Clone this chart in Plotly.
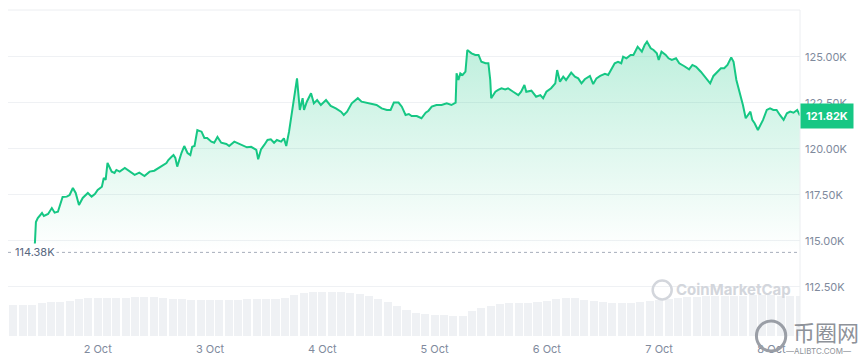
import pandas as pd
import plotly.graph_objects as go

# ---- data ----
start_day = "2025-10-01"
hours = [10.4, 10.6, 10.8, 11.2, 12.1, 12.5, 13.4, 14.2, 14.8, 15.5, 16.3, 16.5, 17.4, 18.0, 18.7, 19.3,
         20.0, 20.8, 21.9, 22.7, 23.4, 24.0, 24.9, 25.3, 25.7, 26.1, 27.0, 27.6, 28.0, 28.7, 29.8, 30.8,
         31.9, 32.9, 34.0, 35.1, 36.1, 38.7, 39.1, 39.8, 40.2, 40.6, 41.0, 41.9, 42.5, 43.2, 43.8, 44.2,
         44.7, 45.3, 46.2, 46.8, 47.4, 48.3, 48.9, 49.6, 50.4, 51.5, 52.1, 53.2, 53.8, 54.9, 55.9, 56.8,
         57.9, 58.3, 58.9, 59.6, 60.3, 61.0, 61.7, 62.3, 63.2, 63.8, 64.3, 64.9, 65.5, 66.4, 66.6, 67.2,
         67.8, 68.1, 68.7, 69.6, 70.2, 70.9, 71.7, 72.8, 73.8, 74.9, 76.0, 76.6, 77.3, 78.3, 79.6, 80.4,
         81.5, 82.6, 83.6, 84.7, 85.8, 86.6, 87.3, 88.3, 89.0, 89.8, 90.5, 91.1, 92.2, 93.2, 94.1, 94.7,
         95.4, 96.4, 97.5, 98.6, 99.6, 100.5, 100.7, 101.1, 101.5, 102.0, 102.6, 103.0, 103.9, 104.7,
         105.4, 106.0, 106.9, 107.5, 107.9, 108.1, 109.0, 109.6, 110.3, 111.1, 111.7, 112.8, 113.9,
         114.5, 115.2, 115.6, 116.7, 117.7, 118.6, 119.2, 119.9, 120.9, 121.8, 122.2, 122.8, 123.5,
         124.1, 125.2, 126.0, 126.7, 127.4, 128.1, 129.2, 129.9, 130.6, 131.4, 132.4, 133.1, 133.7,
         134.5, 135.2, 135.9, 136.3, 137.0, 137.9, 138.5, 139.4, 140.3, 140.9, 141.4, 142.2, 142.8,
         143.5, 143.9, 144.5, 145.4, 146.0, 146.7, 147.6, 148.3, 149.3, 150.4, 151.1, 151.9, 152.9,
         154.0, 154.9, 155.6, 156.5, 157.2, 157.9, 158.6, 159.4, 159.9, 160.5, 161.2, 161.9, 162.5,
         163.0, 163.5, 163.9, 164.4, 165.1, 165.6, 166.2, 167.0, 167.7, 168.4, 169.1, 169.8, 170.6,
         171.3, 172.0, 172.7, 173.5, 174.1]
prices = [114380, 114950, 116030, 116250, 116520, 116360, 116470, 116790, 116540, 116590, 117230, 117390,
          117410, 117500, 117880, 117610, 116960, 117340, 117610, 117410, 117550, 117770, 117950, 118420,
          118320, 119240, 118770, 118700, 118860, 118770, 118970, 118770, 118590, 118710, 118530, 118770,
          118820, 119240, 119400, 119580, 119670, 119510, 119040, 119780, 120160, 119780, 119670, 120120,
          120160, 121030, 120940, 120600, 120600, 120400, 120340, 120650, 120340, 120270, 120160, 120400,
          120340, 120220, 120090, 120120, 119950, 119440, 119980, 120220, 120490, 120530, 120340, 120490,
          120400, 120580, 120160, 120940, 121940, 123390, 123840, 122120, 122760, 122120, 122570, 123030,
          122480, 122660, 122390, 122660, 122340, 122210, 122030, 121850, 122030, 122480, 122760, 122570,
          122520, 122450, 122390, 122210, 122120, 122120, 122520, 122520, 122300, 121850, 121900, 121790,
          121790, 121670, 121970, 122080, 122300, 122390, 122390, 122480, 122390, 122520, 124110, 123750,
          124110, 124020, 124200, 125380, 125200, 125110, 125110, 124740, 124660, 124660, 123750, 122760,
          123110, 123210, 123300, 123240, 123300, 123110, 122930, 123110, 123480, 123110, 123170, 122840,
          122930, 122760, 123110, 123300, 123570, 124290, 123660, 123930, 123750, 124150, 123930, 123840,
          123570, 123790, 123970, 123530, 123840, 123970, 124080, 124020, 124290, 124660, 124740, 124660,
          125020, 124930, 125110, 125110, 125560, 125290, 125650, 125830, 125470, 125380, 125200, 124840,
          125290, 125110, 124930, 124840, 124930, 124660, 124510, 124330, 124570, 124470, 124200, 123840,
          123570, 123970, 124200, 124390, 124390, 124570, 124980, 124740, 123750, 123110, 122390, 121670,
          121850, 122030, 121580, 121400, 121030, 121300, 121580, 122120, 122210, 122120, 122120, 121850,
          121580, 121940, 122030, 121970, 122120, 121820]

vol_hours = list(range(6, 176, 2))
volumes = [62, 62, 62, 66, 68, 68, 70, 74, 76, 76,
           76, 76, 76, 78, 78, 78, 76, 74, 74, 72,
           72, 72, 72, 72, 72, 74, 74, 74, 74, 76,
           82, 86, 88, 88, 88, 88, 86, 84, 80, 74,
           68, 60, 52, 46, 44, 42, 42, 40, 40, 50,
           56, 60, 64, 66, 66, 66, 68, 70, 74, 76,
           76, 72, 70, 68, 66, 66, 66, 68, 70, 72,
           74, 76, 78, 78, 80, 80, 80, 80, 80, 82,
           82, 82, 80, 80, 80]

open_price = 114380
last_price = 121820
open_label = "114.38K"
last_label = "121.82K"

ytick_vals = [112500, 115000, 117500, 120000, 122500, 125000]
ytick_text = ["112.50K", "115.00K", "117.50K", "120.00K", "122.50K", "125.00K"]
xtick_days = ["2025-10-02", "2025-10-03", "2025-10-04", "2025-10-05", "2025-10-06", "2025-10-07", "2025-10-08"]
xtick_text = ["2 Oct", "3 Oct", "4 Oct", "5 Oct", "6 Oct", "7 Oct", "8 Oct"]
x_range = ["2025-10-01 04:50", "2025-10-08 06:06"]
y_range = [109836, 127554]
vol_range = [0, 652]

# ---- build ----
base = pd.Timestamp(start_day)
t = base + pd.to_timedelta(hours, unit="h")
tv = base + pd.to_timedelta(vol_hours, unit="h")

GREEN = "#16c784"
FONT = "Inter"

fig = go.Figure()
fig.add_trace(go.Bar(
    x=tv, y=volumes, yaxis="y2", width=2 * 3600000 * 0.86,
    marker=dict(color="#eff1f4", line=dict(width=0)), hoverinfo="skip", showlegend=False,
))
fig.add_trace(go.Scatter(
    x=t, y=prices, mode="lines", line=dict(color=GREEN, width=2), fill="tozeroy",
    fillgradient=dict(type="vertical", start=114500, stop=125800,
                      colorscale=[[0, "rgba(22,199,132,0.0)"], [1, "rgba(22,199,132,0.28)"]]),
    showlegend=False,
))

fig.update_layout(
    width=860, height=356,
    margin=dict(l=8, r=60, t=10, b=20, autoexpand=False),
    paper_bgcolor="white", plot_bgcolor="white",
    font=dict(family=FONT, size=11, color="#808a9d"),
    xaxis=dict(type="date", range=x_range, tickvals=list(pd.to_datetime(xtick_days)), ticktext=xtick_text,
               showgrid=False, zeroline=False, showline=False, ticks="", ticklabelstandoff=5,
               automargin=False, tickfont=dict(size=11, color="#808a9d")),
    yaxis=dict(side="right", range=y_range, tickvals=ytick_vals, ticktext=ytick_text,
               showgrid=True, gridcolor="#eff1f4", gridwidth=1, zeroline=False, showline=False,
               ticks="", ticklabelstandoff=4, automargin=False, tickfont=dict(size=11, color="#808a9d")),
    yaxis2=dict(overlaying="y", range=vol_range, visible=False, showgrid=False),
    bargap=0,
)

# frame lines (top and right)
fig.add_shape(type="line", xref="paper", yref="paper", x0=0, x1=1, y0=1, y1=1,
              line=dict(color="#eceef1", width=1))
fig.add_shape(type="line", xref="paper", yref="paper", x0=1, x1=1, y0=0, y1=1,
              line=dict(color="#eceef1", width=1))
# opening price dotted line
fig.add_shape(type="line", xref="paper", yref="y", x0=0, x1=1, y0=open_price, y1=open_price,
              line=dict(color="#a7aebb", width=1, dash="dot"))
fig.add_annotation(xref="paper", yref="y", x=0, y=open_price, xanchor="left", yanchor="middle",
                   xshift=5, text=open_label, showarrow=False, bgcolor="white", borderpad=1,
                   font=dict(size=11, color="#58667e", family=FONT))
# last price tag
fig.add_annotation(xref="paper", yref="y", x=1, y=last_price, xanchor="left", yanchor="middle",
                   text="<b>" + last_label + "</b>", showarrow=False, bgcolor=GREEN, borderpad=5,
                   font=dict(size=11, color="white", family=FONT))

# CoinMarketCap watermark
fig.add_shape(type="circle", xref="paper", yref="paper", x0=0.814, x1=0.838, y0=0.112, y1=0.170,
              line=dict(color="#d3d6dc", width=2.5))
fig.add_annotation(xref="paper", yref="paper", x=0.916, y=0.144, xanchor="center", yanchor="middle",
                   text="<b>CoinMarketCap</b>",
                   showarrow=False, font=dict(size=15, color="#d3d6dc", family=FONT))

# bottom-right site watermark
fig.add_shape(type="circle", xref="paper", yref="paper", x0=0.945, x1=0.982, y0=-0.046, y1=0.046,
              line=dict(color="#9a9ea6", width=3))
fig.add_annotation(xref="paper", yref="paper", x=1.033, y=0.016, xanchor="center", yanchor="middle",
                   text="币圈网",
                   showarrow=False, font=dict(size=22, color="#8e9299", family="Noto Sans CJK SC"))
fig.add_annotation(xref="paper", yref="paper", x=1.023, y=-0.046, xanchor="center", yanchor="middle",
                   text="—ALIBTC.COM—",
                   showarrow=False, font=dict(size=8, color="#8e9299", family=FONT))

fig.write_html("out.html")
